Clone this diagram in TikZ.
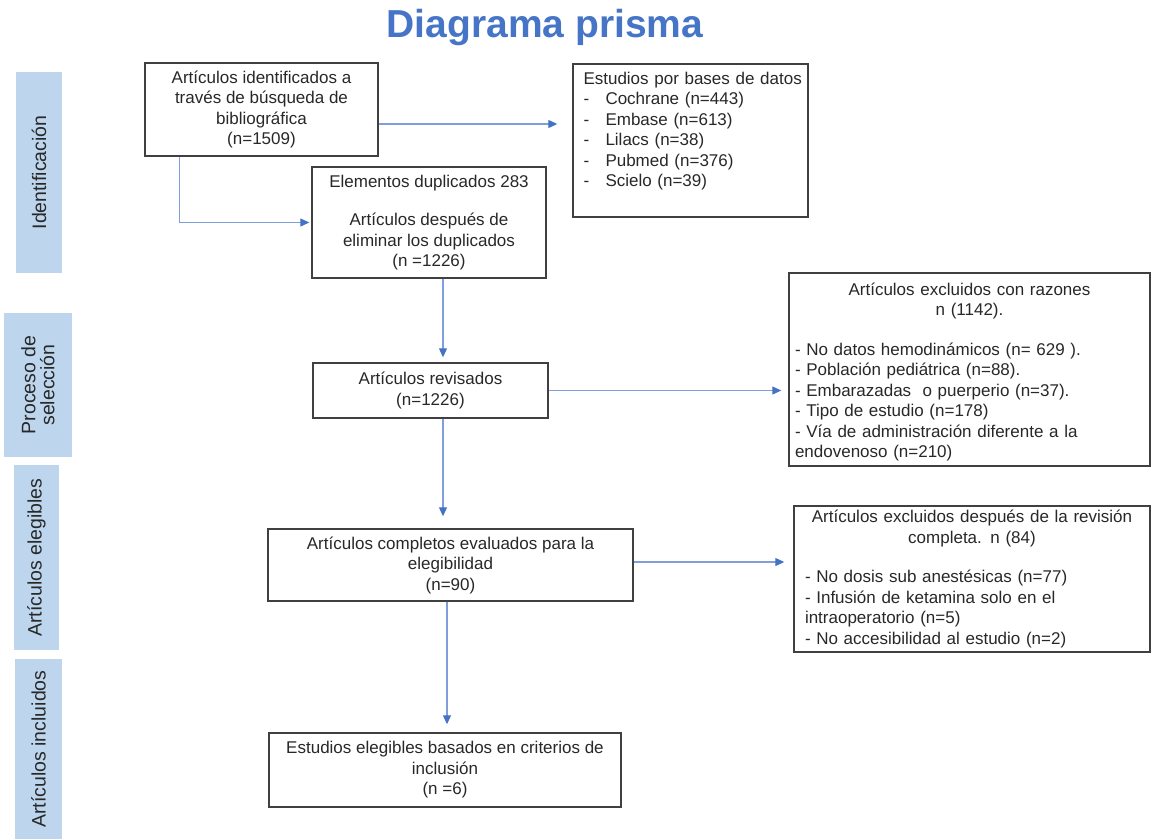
\documentclass[tikz,border=0pt]{standalone}
\usepackage{fontspec}
\setmainfont{Liberation Sans}
\usetikzlibrary{arrows.meta}
\definecolor{titleblue}{RGB}{70,116,198}
\definecolor{barblue}{RGB}{189,214,238}
\definecolor{lineblue}{RGB}{128,158,218}
\definecolor{headblue}{RGB}{68,114,196}
\definecolor{boxline}{RGB}{64,64,64}
\definecolor{txt}{RGB}{40,40,40}
\newcommand{\bxfont}{\fontsize{17}{20.5}\selectfont}
\newcommand{\barfnt}{\fontsize{19.5}{19}\selectfont}
\newcommand{\ttlfont}{\fontsize{39}{44}\selectfont\bfseries}
\begin{document}
\begin{tikzpicture}[x=1pt,y=-1pt,
  box/.style={draw=boxline, line width=1.4pt, fill=white, text=txt, inner sep=0pt, font=\bxfont, align=center},
  listbox/.style={draw=boxline, line width=1.4pt, fill=white, text=txt, inner ysep=0pt, font=\bxfont, align=left},
  bar/.style={fill=barblue, draw=none, text=txt, font=\barfnt, align=center, inner sep=0pt, rotate=90},
  arr/.style={draw=lineblue, line width=1.1pt, -{Triangle[length=9pt,width=8pt,color=headblue]}}]
\useasboundingbox (0,0) rectangle (1152,839);

% title
\node[font=\ttlfont, text=titleblue, anchor=base] (T) at (545,37) {Diagrama prisma};

% side bars
\node[bar, minimum width=201pt, minimum height=46pt] (L1) at (39,172.5) {Identificación};
\node[bar, minimum width=144pt, minimum height=68pt] (L2) at (38,385) {Proceso de\\ selección};
\node[bar, minimum width=185pt, minimum height=45pt] (L3) at (36.5,557.5) {Artículos elegibles};
\node[bar, minimum width=180pt, minimum height=47pt] (L4) at (38.5,749) {Artículos incluidos};

% boxes
\node[box, minimum width=233pt, minimum height=93pt] (A) at (261.5,109.5)
  {Artículos identificados a\\ través de búsqueda de\\ bibliográfica\\ (n=1509)};
\node[box, minimum width=234pt, minimum height=111pt] (B) at (429,222.5)
  {Elementos duplicados 283\\[18pt] Artículos después de\\ eliminar los duplicados\\ (n =1226)};
\node[listbox, minimum width=235pt, minimum height=153pt, text width=224pt, inner xsep=5.5pt] (C) at (690.5,140.5)
  {\hspace*{5pt}Estudios por bases de datos\\
   \hspace*{5pt}\makebox[22pt][l]{-}Cochrane (n=443)\\
   \hspace*{5pt}\makebox[22pt][l]{-}Embase (n=613)\\
   \hspace*{5pt}\makebox[22pt][l]{-}Lilacs (n=38)\\
   \hspace*{5pt}\makebox[22pt][l]{-}Pubmed (n=376)\\
   \hspace*{5pt}\makebox[22pt][l]{-}Scielo (n=39)\par\vspace*{19pt}};
\node[listbox, minimum width=361pt, minimum height=193pt, text width=349pt, inner xsep=6pt] (D) at (969.5,369.5)
  {{\centering Artículos excluidos con razones\\ n (1142).\par}
   \vspace{19pt}
   - No datos hemodinámicos (n= 629 ).\\
   - Población pediátrica (n=88).\\
   - Embarazadas\ \ o puerperio (n=37).\\
   - Tipo de estudio (n=178)\\
   - Vía de administración diferente a la\\
   endovenoso (n=210)\par\vspace*{-5pt}};
\node[box, minimum width=235pt, minimum height=55pt] (F) at (430.5,390.5)
  {Artículos revisados\\ (n=1226)};
\node[box, minimum width=365pt, minimum height=72pt] (G) at (450.5,565)
  {Artículos completos evaluados para la\\ elegibilidad\\ (n=90)};
\node[listbox, minimum width=356pt, minimum height=146pt, text width=334pt, inner xsep=11pt] (E) at (972,579)
  {{\centering Artículos excluidos después de la revisión\\ completa. n (84)\par}
   \vspace{19pt}
   - No dosis sub anestésicas (n=77)\\
   - Infusión de ketamina solo en el\\
   intraoperatorio (n=5)\\
   - No accesibilidad al estudio (n=2)};
\node[box, minimum width=352pt, minimum height=74pt] (H) at (445,770)
  {Estudios elegibles basados en criterios de\\ inclusión\\ (n =6)};

% connectors
\coordinate (a1) at ([yshift=-14.5pt]A.east);
\draw[arr, shorten >=15pt] (a1) -- (a1 -| C.west);
\coordinate (a2) at ([xshift=35pt]A.south west);
\draw[arr, shorten >=2pt] (a2) |- (B.west);
\coordinate (b1) at ([xshift=14pt]B.south);
\draw[arr, shorten >=5pt] (b1) -- (b1 |- F.north);
\draw[arr, shorten >=7pt] (F.east) -- (F.east -| D.west);
\coordinate (f1) at ([xshift=12.5pt]F.south);
\draw[arr, shorten >=12pt] (f1) -- (f1 |- G.north);
\coordinate (g1) at ([yshift=3pt]G.east);
\draw[arr, shorten >=9pt] (g1) -- (g1 -| E.west);
\coordinate (g2) at ([xshift=-3.5pt]G.south);
\draw[arr, shorten >=8pt] (g2) -- (g2 |- H.north);
\end{tikzpicture}
\end{document}
